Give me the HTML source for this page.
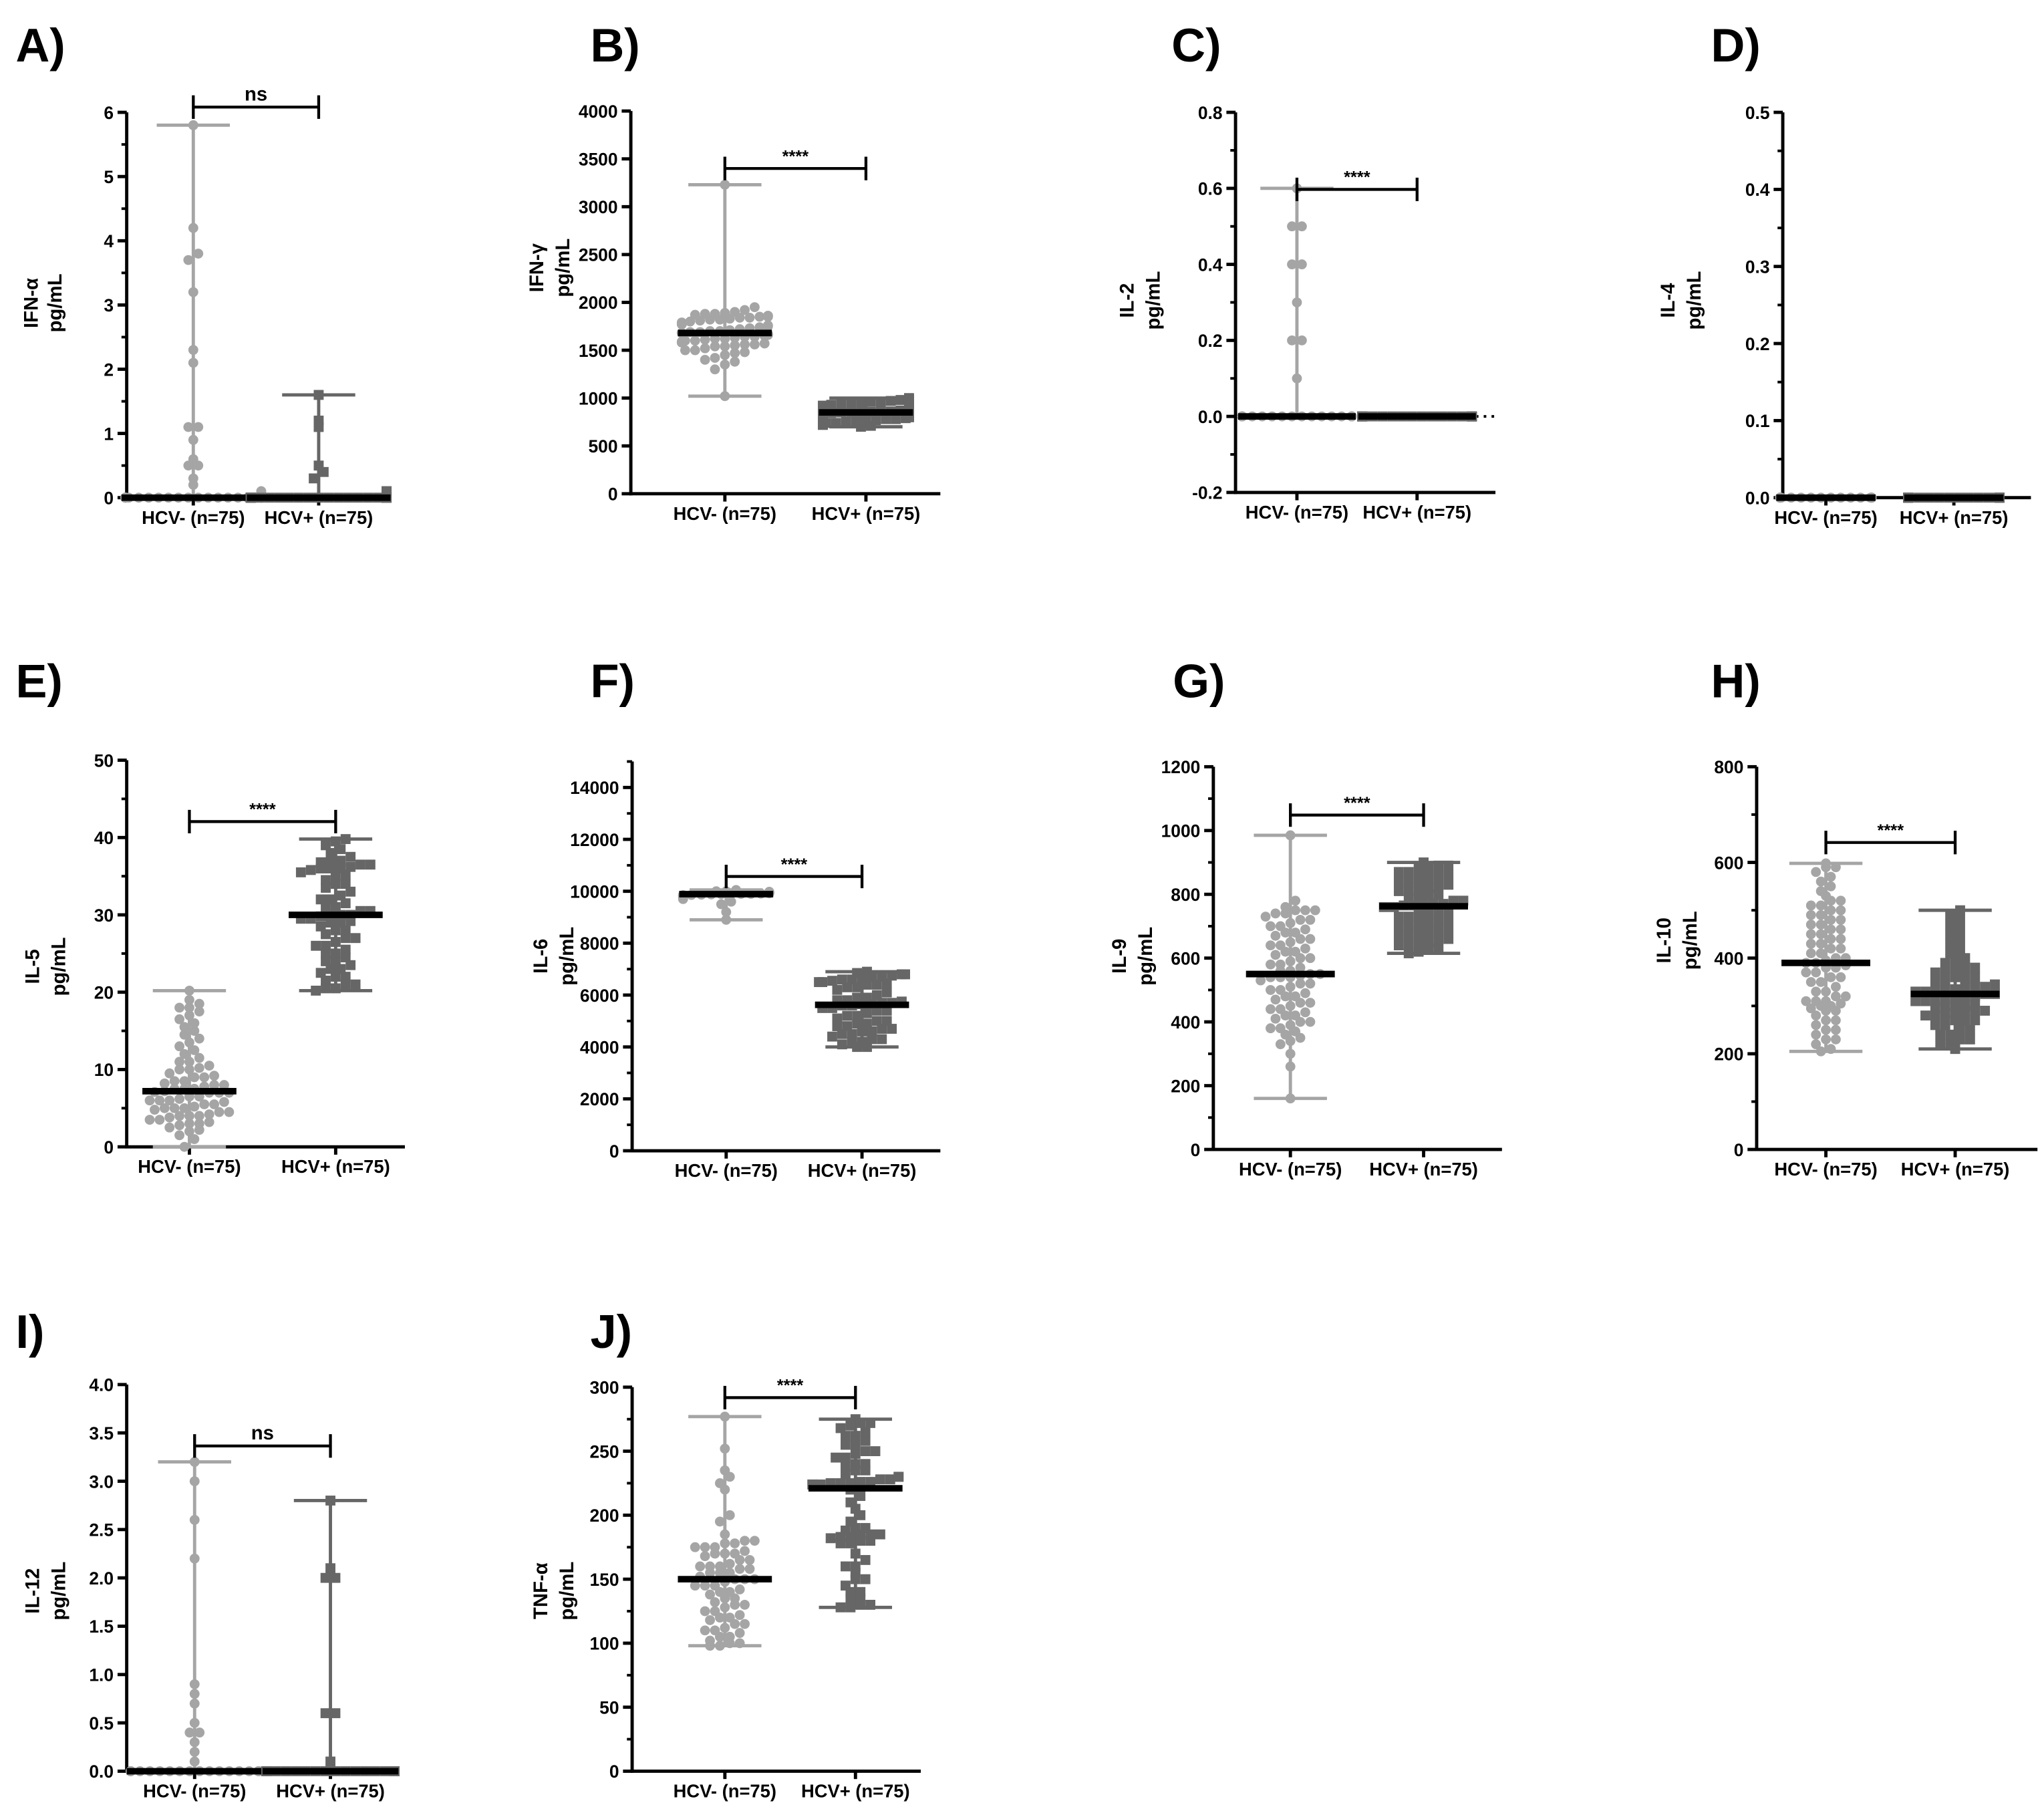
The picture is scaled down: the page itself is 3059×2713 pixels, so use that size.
<!DOCTYPE html>
<html><head><meta charset="utf-8"><style>
html,body{margin:0;padding:0;background:#fff;}
svg{display:block;font-family:"Liberation Sans",Arial,sans-serif;font-weight:bold;}
</style></head><body>
<svg id="fig" width="3059" height="2713" viewBox="0 0 1565 1388" xmlns="http://www.w3.org/2000/svg"></svg>
<script>
// ---- data (pg/mL) ----
const categories = ["HCV- (n=75)", "HCV+ (n=75)"];
const ifnaNeg = [0,0,0,0,0,0,0,0,0,0,0,0,0,0,0,0,0,0,0,0,0,0,0,0,0,0,0,0,0,0,0.1,0.1,0.2,0.3,0.5,0.5,0.6,0.9,1.1,1.1,2.1,2.3,3.2,3.7,3.8,4.2,5.8];
const ifnaPos = [0,0,0,0,0,0,0,0,0,0,0,0,0,0,0,0,0,0,0,0,0,0,0,0,0,0,0,0,0,0,0.1,0.1,0.1,0.3,0.4,0.5,1.1,1.2,1.6];
const ifngNeg = [3230,1950,1920,1900,1890,1880,1870,1860,1850,1850,1840,1830,1820,1810,1800,1790,1780,1770,1760,1750,1740,1730,1720,1710,1700,1690,1680,1680,1670,1660,1650,1640,1630,1620,1610,1600,1590,1580,1570,1560,1550,1540,1520,1500,1480,1450,1420,1400,1380,1350,1300,1020,1880,1860,1840,1820,1700,1690,1660,1640,1620,1600,1580,1560,1540,1500,1470];
const ifngPos = [1000,990,980,970,960,950,940,930,920,910,900,890,880,870,860,855,850,850,845,840,830,820,810,800,790,780,770,760,750,740,730,720,710,700,980,960,940,920,900,880,860,850,840,820,800,780,760,740,720];
const il2Neg = [0,0,0,0,0,0,0,0,0,0,0,0,0,0,0,0,0,0,0,0,0,0,0,0,0,0,0,0,0,0,0.1,0.2,0.2,0.3,0.4,0.4,0.5,0.5,0.6];
const il2Pos = [0,0,0,0,0,0,0,0,0,0,0,0,0,0,0,0,0,0,0,0,0,0,0,0,0,0,0,0,0,0];
const il4Neg = [0,0,0,0,0,0,0,0,0,0,0,0,0,0,0,0,0,0,0,0,0,0,0,0];
const il4Pos = [0,0,0,0,0,0,0,0,0,0,0,0,0,0,0,0,0,0,0,0,0,0,0,0];
const il5Neg = [20.2,19,18.5,18,17.5,17,16,15,14.5,14,13,12,11.5,11,10.5,10,9.5,9,8.5,8,7.5,7.5,7,7,7,6.5,6.5,6,6,6,5.5,5.5,5,5,5,4.5,4.5,4,4,4,3.5,3.5,3,3,2.5,2,1.5,1,0,18,16.5,15.5,13.5,12.5,11,10,9,8.5,8,7.5,7.2,7.8,8.2,9.2,10.2,6.2,5.8,5.2,4.8,4.2,3.8,3.2,2.8,2.2,7.1];
const il5Pos = [39.8,39,38,37,37,36.5,36,36,35.5,35,34.5,34,33,32.5,32,31.5,31,30.5,30,30,29.5,29.5,29,28.5,28,27.5,27,26.5,26,25.5,25,24.5,24,23.5,23,22.5,22,21.5,21,20.5,20.2,39.5,38.5,37.5,36.8,36.2,35.8,35.2,34,33.5,32,31,30,29,28,27,26,25,24,23,22,21,20.5,36.5,36,30.5,29.8,29.2];
const il6Neg = [10050,10000,10000,9980,9960,9950,9940,9930,9920,9910,9900,9900,9900,9890,9880,9870,9860,9850,9840,9820,9800,9750,9700,9600,9500,9200,8900];
const il6Pos = [6900,6850,6800,6750,6700,6650,6600,6550,6500,6450,6400,6300,6200,6100,6000,5900,5800,5750,5700,5650,5650,5600,5500,5400,5300,5200,5100,5000,4900,4800,4700,4600,4500,4400,4300,4200,4100,4000,4000,6800,6600,6500,6300,5800,5700,5600,5500,5000,4900,4800,4700,4500,4300,4200,6700,6400,5900,5400,5200,4600];
const il9Neg = [985,780,760,750,750,740,730,720,710,700,690,680,670,660,650,640,630,620,610,600,590,580,570,560,550,545,540,530,520,510,500,490,480,470,460,450,440,430,420,410,400,390,380,370,350,330,300,260,160,750,740,720,700,680,660,640,620,600,580,560,540,520,500,480,460,440,420,400,380,360,340,540,550];
const il9Pos = [900,890,880,870,860,850,840,830,820,810,800,790,780,770,765,760,750,740,730,720,710,700,690,680,670,660,650,640,630,615,890,870,850,830,810,790,770,750,730,710,690,670,650,630,880,860,840,820,800,780,760,740,720,700,680,660,640,620,770,765];
const il10Neg = [598,580,560,540,520,510,500,490,480,470,460,450,440,430,420,410,400,395,390,385,380,370,360,350,340,330,320,310,300,290,280,270,260,250,240,230,220,205,590,570,550,530,510,490,470,450,430,410,390,370,350,330,310,300,290,270,250,230,210,590,520,500,480,460,440,420,400,380,360,320,310,305,295];
const il10Pos = [500,490,470,450,430,410,400,390,380,370,360,350,345,340,335,330,325,320,315,310,305,300,295,290,285,280,270,260,250,240,230,220,210,480,460,440,420,400,380,370,360,350,340,330,320,310,300,290,280,270,260,250,240,230,220,380,360,340,330,320,310,300,290,280,270,330,325];
const il12Neg = [0,0,0,0,0,0,0,0,0,0,0,0,0,0,0,0,0,0,0,0,0,0,0,0,0,0,0,0,0,0,0.1,0.2,0.3,0.4,0.4,0.5,0.7,0.8,0.9,2.2,2.6,3.0,3.2];
const il12Pos = [0,0,0,0,0,0,0,0,0,0,0,0,0,0,0,0,0,0,0,0,0,0,0,0,0,0,0,0,0,0,0.1,0.6,0.6,2.0,2.0,2.1,2.8];
const tnfNeg = [277,252,235,230,225,220,200,195,185,180,178,175,172,170,168,165,162,160,158,155,155,152,150,148,145,142,140,138,135,132,130,128,125,122,120,118,115,112,110,108,105,102,100,98,178,175,170,165,160,155,150,145,140,135,130,125,120,115,110,105,100,98,160,158,150,145,170,175,180];
const tnfPos = [275,272,270,265,262,258,255,250,248,245,240,238,235,232,230,228,226,225,225,224,222,220,215,210,205,200,195,190,188,185,183,180,178,170,165,160,155,150,145,140,135,130,128,272,268,262,255,250,245,240,235,228,225,224,224,185,183,182,180,178,160,150,140,135,130,128,226,230,190,185];
const sigLabels = ["ns","****","****","","****","****","****","****","ns","****"];

// ---- layout ----
const panels = [
 {id:"a",letter:"A)",lx:12,ly:47,ax:97,x1:271,yb:381,yt:86,min:0,max:6,major:1,minor:0.5,dec:0,g:[148,244],data:[ifnaNeg,ifnaPos],t1:"IFN-α",t2:"pg/mL",tx:29,tx2:47,tcy:232,br:82,mw:55},
 {id:"b",letter:"B)",lx:452,ly:47,ax:483,x1:720,yb:378,yt:85,min:0,max:4000,major:500,minor:0,dec:0,g:[555,663],data:[ifngNeg,ifngPos],t1:"IFN-γ",t2:"pg/mL",tx:416,tx2:436,tcy:205,br:129,mw:36},
 {id:"c",letter:"C)",lx:897,ly:47,ax:946,x1:1145,yb:377,yt:86,min:-0.2,max:0.8,major:0.2,minor:0.1,dec:1,g:[993,1085],data:[il2Neg,il2Pos],t1:"IL-2",t2:"pg/mL",tx:868,tx2:888,tcy:230,br:145,dotted:true,mw:45},
 {id:"d",letter:"D)",lx:1310,ly:47,ax:1365,x1:1555,yb:381,yt:86,min:0,max:0.5,major:0.1,minor:0.05,dec:1,g:[1398,1496],data:[il4Neg,il4Pos],t1:"IL-4",t2:"pg/mL",tx:1282,tx2:1302,tcy:230,br:null,mw:38},
 {id:"e",letter:"E)",lx:12,ly:534,ax:97,x1:310,yb:878,yt:582,min:0,max:50,major:10,minor:5,dec:0,g:[145,257],data:[il5Neg,il5Pos],t1:"IL-5",t2:"pg/mL",tx:30,tx2:50,tcy:740,br:629,mw:36},
 {id:"f",letter:"F)",lx:452,ly:534,ax:484,x1:720,yb:881,yt:583,min:0,max:15000,major:2000,minor:1000,dec:0,labelMax:14000,g:[556,660],data:[il6Neg,il6Pos],t1:"IL-6",t2:"pg/mL",tx:419,tx2:439,tcy:732,br:671,mw:36},
 {id:"g",letter:"G)",lx:898,ly:534,ax:929,x1:1150,yb:880,yt:587,min:0,max:1200,major:200,minor:100,dec:0,g:[988,1090],data:[il9Neg,il9Pos],t1:"IL-9",t2:"pg/mL",tx:862,tx2:882,tcy:732,br:624,mw:34},
 {id:"h",letter:"H)",lx:1310,ly:534,ax:1345,x1:1560,yb:880,yt:587,min:0,max:800,major:200,minor:100,dec:0,g:[1398,1497],data:[il10Neg,il10Pos],t1:"IL-10",t2:"pg/mL",tx:1279,tx2:1299,tcy:720,br:645,mw:34},
 {id:"i",letter:"I)",lx:12,ly:1032,ax:97,x1:305,yb:1356,yt:1060,min:0,max:4,major:0.5,minor:0,dec:1,g:[149,253],data:[il12Neg,il12Pos],t1:"IL-12",t2:"pg/mL",tx:30,tx2:50,tcy:1218,br:1107,mw:52},
 {id:"j",letter:"J)",lx:452,ly:1032,ax:484,x1:705,yb:1356,yt:1062,min:0,max:300,major:50,minor:25,dec:0,g:[555,655],data:[tnfNeg,tnfPos],t1:"TNF-α",t2:"pg/mL",tx:419,tx2:439,tcy:1218,br:1070,mw:36}
];
const NS="http://www.w3.org/2000/svg";
const svg=document.getElementById("fig");
function el(tag,attrs,parent){const e=document.createElementNS(NS,tag);for(const k in attrs)e.setAttribute(k,attrs[k]);(parent||svg).appendChild(e);return e;}
const colors=["#a5a5a5","#666666"];
function median(a){const s=[...a].sort((x,y)=>x-y);const n=s.length;return n%2?s[(n-1)/2]:(s[n/2-1]+s[n/2])/2;}

panels.forEach((p,pi)=>{
  const g=el("g",{});
  
  
  const Y=v=>p.yb-(v-p.min)/(p.max-p.min)*(p.yb-p.yt);
  const lt=el("text",{x:p.lx,y:p.ly,"font-size":36},g);lt.textContent=p.letter;
  
  
  [[p.t1,p.tx],[p.t2,p.tx2]].forEach((t,k)=>{
    const tt=el("text",{transform:`translate(${t[1]},${p.tcy}) rotate(-90)`,"text-anchor":"middle","font-size":15},g);
    tt.textContent=t[0];
    
    
  });
  const eps=1e-9;
  if(p.minor){for(let v=p.min;v<=p.max+eps;v+=p.minor){const mm=el("line",{x1:p.ax-4,x2:p.ax,y1:Y(v),y2:Y(v),stroke:"#000","stroke-width":2},g);}}
  const lmax=p.labelMax!==undefined?p.labelMax:p.max;
  for(let v=p.min;v<=lmax+eps;v+=p.major){
    const tk=el("line",{x1:p.ax-7,x2:p.ax,y1:Y(v),y2:Y(v),stroke:"#000","stroke-width":2.5},g);
    
    
    const tl=el("text",{x:p.ax-10,y:Y(v)+5,"text-anchor":"end","font-size":13.5},g);
    tl.textContent=(Math.abs(v)<eps?0:v).toFixed(p.dec);
    
    
  }
  const ya=el("line",{x1:p.ax,x2:p.ax,y1:p.yt,y2:p.yb+1.2,stroke:"#000","stroke-width":2.5},g);
  
  
  const xa=el("line",{x1:p.ax-1,x2:p.x1,y1:p.yb,y2:p.yb,stroke:"#000","stroke-width":2.5},g);
  
  
  if(p.dotted){const dl=el("line",{x1:p.ax+4,x2:p.x1,y1:Y(0),y2:Y(0),stroke:"#000","stroke-width":2,"stroke-dasharray":"2 4"},g);}
  p.g.forEach((cx,gi)=>{
    const xt=el("line",{x1:cx,x2:cx,y1:p.yb,y2:p.yb+6,stroke:"#000","stroke-width":2.5},g);
    
    
    const cl=el("text",{x:cx,y:p.yb+20,"text-anchor":"middle","font-size":14},g);
    cl.textContent=categories[gi];
    
    
    const vals=p.data[gi];
    const col=colors[gi];
    const mn=Math.min(...vals),mx=Math.max(...vals);
    const eb=el("line",{x1:cx,x2:cx,y1:Y(mx),y2:Y(mn),stroke:col,"stroke-width":2.5},g);
    
    
    [mn,mx].forEach(v=>{const c=el("line",{x1:cx-28,x2:cx+28,y1:Y(v),y2:Y(v),stroke:col,"stroke-width":2.5},g);});
    const r=3.8,bh=7;
    const bins={};
    [...vals].sort((a,b)=>a-b).forEach(v=>{const y=Y(v);const b=Math.round(y/bh);(bins[b]=bins[b]||[]).push(y);});
    Object.values(bins).forEach(ys=>{
      const n=ys.length;
      ys.forEach((y,i)=>{
        let off=(i-(n-1)/2)*7.6;
        off=Math.max(-p.mw+3,Math.min(p.mw-3,off));
        let m;
        if(gi===0) m=el("circle",{cx:cx+off,cy:y,r:r,fill:col},g);
        else m=el("rect",{x:cx+off-r,y:y-r,width:2*r,height:2*r,fill:col},g);
        
        
      });
    });
    const md=median(vals);
    const ml=el("line",{x1:cx-p.mw,x2:cx+p.mw,y1:Y(md),y2:Y(md),stroke:"#000","stroke-width":5},g);
    
    
  });
  if(p.br!==null){
    const a=p.g[0],b=p.g[1];
    const bl=el("path",{d:`M${a},${p.br-9}V${p.br+9}M${a},${p.br}H${b}M${b},${p.br-9}V${p.br+9}`,stroke:"#000","stroke-width":2.2,fill:"none"},g);
    
    
    const st=el("text",{x:(a+b)/2,y:p.br-5,"text-anchor":"middle","font-size":sigLabels[pi]==="ns"?15:13},g);
    st.textContent=sigLabels[pi];
    
    
  }
});
</script>
</body></html>
